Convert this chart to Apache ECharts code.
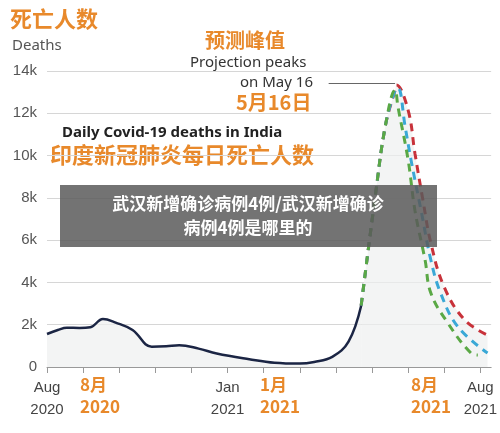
<!DOCTYPE html>
<html><head><meta charset="utf-8">
<script src="https://cdn.jsdelivr.net/npm/echarts@6/dist/echarts.min.js"></script>
<style>body{margin:0;background:#fff}#c{width:500px;height:433px}</style>
</head><body><div id="c"></div>
<script>
// x = months since Aug 1 2020
var actual = [[0,1560],[0.3,1750],[0.55,1860],[0.9,1850],[1.2,1880],[1.55,2270],[1.9,2100],[2.37,1750],[2.9,960],[3.3,980],[3.66,1030],[4.2,870],[4.7,640],[5.6,370],[6.3,200],[7.0,160],[7.4,240],[7.9,480],[8.35,1200],[8.7,2900]];
var rise = [[8.7,2900],[9.1,8200],[9.37,11400],[9.64,13100]];
var green = rise.concat([[9.72,12300],[10.0,9800],[10.19,7400],[10.47,5060],[10.63,3500],[11.1,2080],[11.74,660],[11.93,570]]);
var blue = rise.concat([[9.72,13200],[9.92,11350],[10.08,9800],[10.36,7400],[10.63,5060],[10.9,3500],[11.38,1900],[12.2,660]]);
var red = rise.concat([[9.68,13340],[10.0,12150],[10.19,10100],[10.41,7900],[10.63,5870],[11.0,3780],[11.57,2220],[12.2,1510]]);
var yTicks = ['0','2k','4k','6k','8k','10k','12k','14k'];
var xLabels = {0:'Aug\n2020', 5:'Jan\n2021', 12:'Aug\n2021'};

var orange = '#e8892b';
var chart = echarts.init(document.getElementById('c'));
function dashed(name, data, color, area) {
	return {
		name: name, type: 'line', data: data, symbol: 'none', smooth: 0.4,
		lineStyle: {color: color, width: 3, type: [8, 6]},
		areaStyle: area ? {color: '#eef0f0'} : undefined,
		z: area ? 3 : 4
	};
}
chart.setOption({
	animation: false,
	grid: {left: 47, right: 6, top: 71, bottom: 66},
	xAxis: {
		type: 'value', min: 0, max: 12.3, interval: 1,
		axisLine: {lineStyle: {color: '#999'}},
		axisTick: {show: true, length: 6, lineStyle: {color: '#999'}},
		splitLine: {show: false},
		axisLabel: {
			color: '#444', fontSize: 15, lineHeight: 22, margin: 10, showMaxLabel: false,
			formatter: function(v) { return xLabels[v] || ''; }
		}
	},
	yAxis: {
		type: 'value', min: 0, max: 14000, interval: 2000,
		axisLine: {show: false}, axisTick: {show: false},
		splitLine: {lineStyle: {color: '#d6d6d6'}},
		axisLabel: {color: '#555', fontSize: 15, margin: 10,
			formatter: function(v) { return yTicks[v / 2000]; }}
	},
	series: [
		{
			type: 'line', data: actual, symbol: 'none', smooth: 0.4,
			lineStyle: {color: '#1b2544', width: 2.5},
			areaStyle: {color: '#eef0f0'}, z: 5,
			markLine: {
				symbol: 'none', silent: true, label: {show: false},
				data: [
					[{coord: [9.0, 0], lineStyle: {color: '#aaa', type: [4, 4], width: 1.5}}, {coord: [9.0, 15400]}],
					[{coord: [7.8, 13400], lineStyle: {color: '#666', type: 'solid', width: 1}}, {coord: [9.64, 13400]}]
				]
			}
		},
		dashed('red', red, '#c8323a', true),
		dashed('blue', blue, '#3aa8d6', false),
		dashed('green', green, '#5aa845', false)
	],
	graphic: [
		{type: 'text', left: 10, top: 8, style: {text: '死亡人数', fill: orange, font: 'bold 22px "Noto Sans CJK SC"'}},
		{type: 'text', left: 12, top: 38, style: {text: 'Deaths', fill: '#555', font: '15px "Noto Sans"'}},
		{type: 'text', left: 205, top: 30, style: {text: '预测峰值', fill: orange, font: 'bold 20px "Noto Sans CJK SC"'}},
		{type: 'text', left: 190, top: 55, style: {text: 'Projection peaks', fill: '#333', font: '15px "Noto Sans"'}},
		{type: 'text', left: 240, top: 75, style: {text: 'on May 16', fill: '#333', font: '15px "Noto Sans"'}},
		{type: 'text', left: 236, top: 92, style: {text: '5月16日', fill: orange, font: 'bold 20px "Noto Sans CJK SC"'}},
		{type: 'text', left: 62, top: 125, style: {text: 'Daily Covid-19 deaths in India', fill: '#222', font: 'bold 15px "Noto Sans"'}},
		{type: 'text', left: 50, top: 144, style: {text: '印度新冠肺炎每日死亡人数', fill: orange, font: 'bold 22px "Noto Sans CJK SC"'}},
		{type: 'text', left: 80, top: 374, style: {text: '8月\n2020', fill: orange, font: 'bold 17px "Noto Sans CJK SC"', lineHeight: 22}},
		{type: 'text', left: 260, top: 374, style: {text: '1月\n2021', fill: orange, font: 'bold 17px "Noto Sans CJK SC"', lineHeight: 22}},
		{type: 'text', left: 411, top: 374, style: {text: '8月\n2021', fill: orange, font: 'bold 17px "Noto Sans CJK SC"', lineHeight: 22}},
		{type: 'rect', left: 60, top: 185, z: 100, shape: {width: 377, height: 62}, style: {fill: 'rgba(90,90,90,0.85)'}},
		{type: 'text', x: 248, y: 192, z: 101, style: {text: '武汉新增确诊病例4例/武汉新增确诊\n病例4例是哪里的', fill: '#fff', font: 'bold 17px "Noto Sans CJK SC"', lineHeight: 24, textAlign: 'center'}}
	]
});
</script></body></html>
